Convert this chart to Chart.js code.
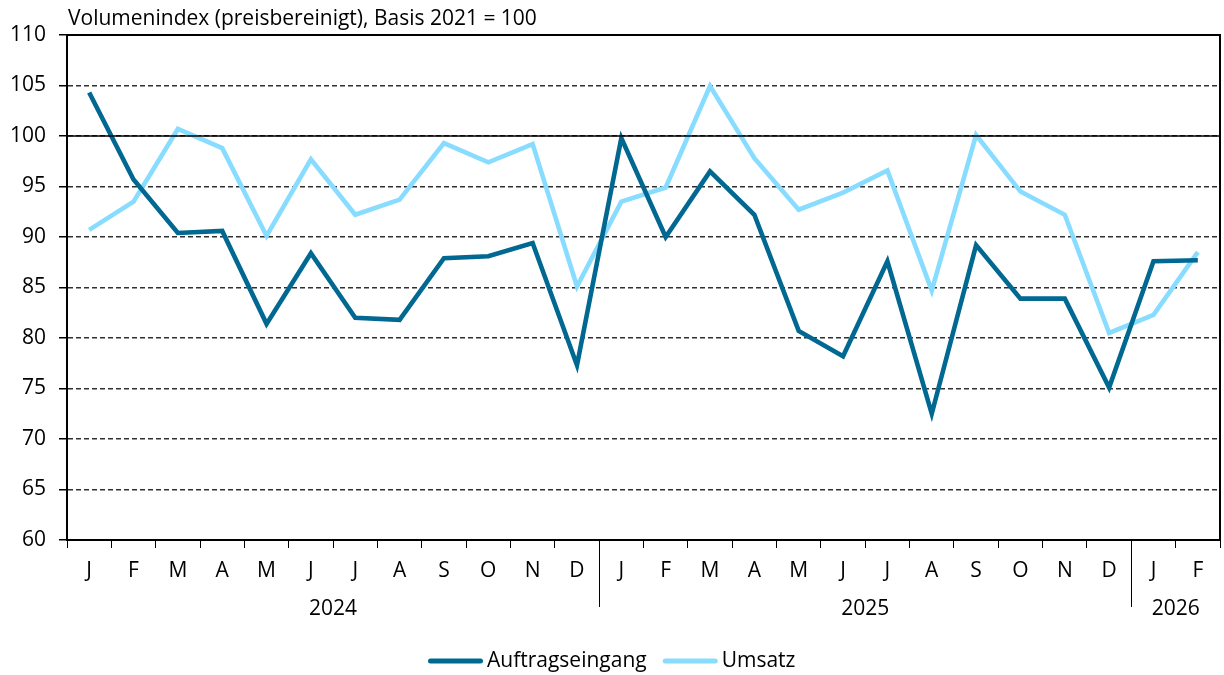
<!DOCTYPE html>
<html>
<head>
<meta charset="utf-8">
<script src="https://cdn.jsdelivr.net/npm/chart.js@4/dist/chart.umd.min.js"></script>
<style>
html,body{margin:0;padding:0;background:#fff;}
#wrap{width:1224px;height:675px;position:relative;}
</style>
</head>
<body>
<div id="wrap"><canvas id="c" width="1224" height="675"></canvas></div>
<script>
const monthLabels = ['J','F','M','A','M','J','J','A','S','O','N','D','J','F','M','A','M','J','J','A','S','O','N','D','J','F'];
const years = ['2024','2025','2026'];
const yearStartIndex = [0, 12, 24];
const auftragseingang = [104.3,95.7,90.4,90.6,81.4,88.4,82.0,81.8,87.9,88.1,89.4,77.3,99.8,90.0,96.5,92.2,80.7,78.2,87.6,72.5,89.2,83.9,83.9,75.1,87.6,87.7];
const umsatz = [90.7,93.5,100.7,98.8,90.1,97.7,92.2,93.7,99.3,97.4,99.2,85.1,93.5,94.9,104.95,97.8,92.7,94.4,96.6,84.7,100.1,94.5,92.2,80.5,82.3,88.5];
const yTicks = [60,65,70,75,80,85,90,95,100,105,110];
const titleText = 'Volumenindex (preisbereinigt), Basis 2021 = 100';
const seriesNames = ['Auftragseingang','Umsatz'];

const FONT = '"Open Sans", "Noto Sans", sans-serif';
const FSIZE = 21;
const DARK = '#006891';
const LIGHT = '#87dcff';

const decor = {
  id: 'decor',
  afterDraw(chart) {
    const ctx = chart.ctx;
    const a = chart.chartArea;
    const x = chart.scales.x, y = chart.scales.y;
    ctx.save();
    // title
    ctx.fillStyle = '#000';
    ctx.font = FSIZE + 'px ' + FONT;
    ctx.textAlign = 'left';
    ctx.textBaseline = 'middle';
    ctx.fillText(titleText, a.left + 1, 19);
    // solid 100 line
    const y100 = y.getPixelForValue(100);
    ctx.strokeStyle = '#000';
    ctx.lineWidth = 1.4;
    ctx.beginPath(); ctx.moveTo(a.left, y100); ctx.lineTo(a.right, y100); ctx.stroke();
    // top & right border
    ctx.lineWidth = 2;
    ctx.beginPath();
    ctx.moveTo(a.left, a.top); ctx.lineTo(a.right, a.top); ctx.lineTo(a.right, a.bottom);
    ctx.stroke();
    // year separators and labels
    const half = (x.getPixelForValue(1) - x.getPixelForValue(0)) / 2;
    ctx.lineWidth = 1;
    for (let k = 1; k < yearStartIndex.length; k++) {
      const bx = Math.round(x.getPixelForValue(yearStartIndex[k]) - half) + 0.5;
      ctx.beginPath(); ctx.moveTo(bx, a.bottom); ctx.lineTo(bx, 607); ctx.stroke();
    }
    ctx.textAlign = 'center';
    for (let k = 0; k < years.length; k++) {
      const s = yearStartIndex[k];
      const e = (k + 1 < yearStartIndex.length ? yearStartIndex[k + 1] : monthLabels.length) - 1;
      const cx = (x.getPixelForValue(s) + x.getPixelForValue(e)) / 2;
      ctx.fillText(years[k], cx, 609);
    }
    // legend
    const ds = chart.data.datasets;
    const lineLen = 55, gapText = 4, gapItem = 16;
    ctx.textAlign = 'left';
    const widths = ds.map(d => ctx.measureText(d.label).width);
    let total = 0;
    ds.forEach((d, i) => { total += lineLen + gapText + widths[i] + (i < ds.length - 1 ? gapItem : 0); });
    let lx = Math.round(chart.width / 2 - total / 2);
    const ly = 661;
    ds.forEach((d, i) => {
      ctx.strokeStyle = d.borderColor;
      ctx.lineWidth = 5;
      ctx.lineCap = 'round';
      ctx.beginPath(); ctx.moveTo(lx + 2.5, ly); ctx.lineTo(lx + lineLen - 2.5, ly); ctx.stroke();
      ctx.fillStyle = '#000';
      ctx.fillText(d.label, lx + lineLen + gapText, ly);
      lx += lineLen + gapText + widths[i] + gapItem;
    });
    ctx.restore();
  }
};

new Chart(document.getElementById('c'), {
  type: 'line',
  data: {
    labels: monthLabels,
    datasets: [
      { label: seriesNames[0], data: auftragseingang, borderColor: DARK, backgroundColor: DARK, borderWidth: 4.6, pointRadius: 0, tension: 0, borderJoinStyle: 'miter' },
      { label: seriesNames[1], data: umsatz, borderColor: LIGHT, backgroundColor: LIGHT, borderWidth: 4.6, pointRadius: 0, tension: 0, borderJoinStyle: 'miter' }
    ]
  },
  options: {
    responsive: false,
    animation: false,
    layout: { padding: { top: 35, right: 4, left: 0, bottom: 0 } },
    scales: {
      x: {
        type: 'category',
        offset: true,
        grid: { offset: true, drawOnChartArea: false, tickLength: 8, color: '#000', lineWidth: 1 },
        border: { color: '#000', width: 2 },
        ticks: { font: { family: FONT, size: FSIZE }, color: '#000', padding: 10, maxRotation: 0, autoSkip: false },
        afterFit(s) { s.height = 135; }
      },
      y: {
        min: 60, max: 110,
        afterBuildTicks(s) { s.ticks = yTicks.map(v => ({ value: v })); },
        grid: { color: '#303030', lineWidth: 1.5, tickLength: 8, tickColor: '#000' },
        border: { color: '#000', width: 2, dash: [5, 3] },
        ticks: { font: { family: FONT, size: FSIZE }, color: '#000', padding: 13 },
        afterFit(s) { s.width = 67; }
      }
    },
    plugins: {
      legend: { display: false },
      tooltip: { enabled: false }
    }
  },
  plugins: [decor]
});
</script>
</body>
</html>
